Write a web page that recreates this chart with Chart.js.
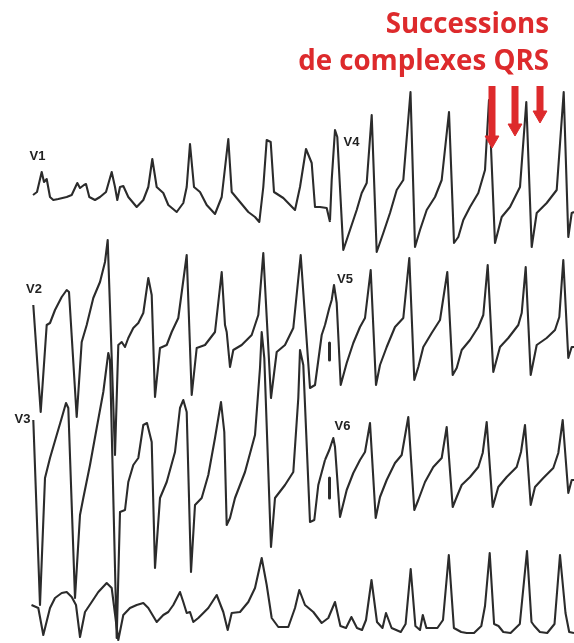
<!DOCTYPE html>
<html>
<head>
<meta charset="utf-8">
<script src="https://cdn.jsdelivr.net/npm/chart.js@4/dist/chart.umd.min.js"></script>
<style>
html,body{margin:0;padding:0;background:#fff;overflow:hidden;}
#wrap{width:574px;height:643px;position:relative;}
canvas{display:block;}
</style>
</head>
<body>
<div id="wrap"><canvas id="ecg"></canvas></div>
<script>
// ---- Data: each lead = [time, amplitude] pairs (amplitude relative to the lead's own baseline) ----
const leadNames = ['V1', 'V2', 'V3', 'V4', 'V5', 'V6', ''];

const v1 = [[33,5],[37,8],[41.7,28],[44,18],[46.7,21],[50,3],[53.3,0],[58.3,1],[66.7,3],[71.7,5],[77.3,17],[80,12],[84,15],[86,16],[89.3,3],[95,0],[100,3],[106,8],[111.7,28],[115,13],[117.3,0],[120,13],[123.3,14],[128.3,3],[136.7,-7],[143.3,0],[148.3,13],[152.3,41],[156.7,13],[163.3,7],[168.3,-5],[176.7,-12],[183.3,-3],[186.7,13],[190,56],[194,13],[200,8],[206.7,-5],[215,-14],[221.7,3],[228.3,61],[231.7,8],[240,-2],[248.3,-12],[255,-17],[259.3,-22],[263.3,13],[266.7,60],[270.7,58],[274,8],[283.3,2],[295,-10],[300,13],[306,51],[311.7,37],[315,-7],[320,-7],[326.7,-8],[330,-22]];

const v2 = [[33.3,35],[40.7,-72],[46.7,15],[50,17],[55,30],[61.7,43],[66.7,50],[69,48],[76.7,-77],[81.7,-2],[86.7,15],[93.3,42],[100,58],[105,78],[107.7,100],[115,-115],[118.3,-5],[121.7,-2],[125,-7],[128.3,2],[133.3,12],[138.3,17],[143.3,27],[148.3,62],[151.7,45],[155,-57],[160,-8],[166.7,-5],[171.7,8],[178.3,22],[186.7,85],[191.7,-55],[196.7,-8],[205,-5],[215,8],[221.7,68],[225,15],[226.7,8],[230,-27],[233.3,-10],[241.7,-5],[251.7,5],[258.3,25],[263.3,87],[271,-58],[276.7,-12],[285,-5],[293.3,12],[300.7,85],[310,-48],[315,-45],[321.7,5],[325,15]];

const v3 = [[33.3,60],[40,-125],[45,2],[50,22],[56.7,45],[61.7,62],[66,77],[68.3,72],[75,-118],[80,-35],[83.3,-18],[90,15],[96.7,52],[103.3,88],[108.3,127],[110,120],[116.7,-158],[120,-32],[125,-30],[128.3,-2],[133.3,15],[138.3,22],[143.3,55],[147,57],[151.7,38],[155,-88],[160,-18],[166.7,-2],[175,28],[180,72],[183.3,80],[186.7,68],[191,-92],[195,-25],[201.7,-18],[208.3,5],[215,42],[221,78],[224.3,48],[226.7,-45],[230,-38],[235,-18],[245,8],[255,45],[260,112],[261.7,148],[264.3,122],[271,-67],[275,-18],[285,-5],[293.3,8],[298.3,82],[300,130],[303.3,115],[310,-42],[314.3,-40],[318.3,-5],[325,20]];

const v4 = [[330,-10],[331.7,30],[335,80],[337.3,73],[343.3,-40],[350,-20],[356.7,0],[361.7,17],[366.7,27],[371.7,95],[376.7,-42],[383.3,-23],[390,-3],[396.7,20],[403.3,30],[410.5,118],[415,-37],[420,-20],[426.7,0],[435,13],[441.7,30],[449,98],[454,-33],[458.3,-27],[463.3,-10],[470,3],[478.3,17],[485,40],[489,110],[495,-33],[501.7,-7],[510,3],[520,23],[526.3,108],[531.7,-37],[536.7,-3],[546.7,7],[556.7,20],[563.7,118],[568.3,-27],[571.7,-3],[574,-2]];

const v5 = [[325,15],[329.3,32],[331.7,40],[334,55],[336.7,37],[340.7,-45],[346.7,-23],[353.3,-3],[360,13],[365,22],[370.7,70],[376,-45],[380,-25],[386.7,-7],[395,13],[403.3,22],[409.3,82],[414.3,-40],[418.3,-27],[423.3,-7],[431.7,7],[440,20],[447.3,68],[452.7,-35],[456.7,-28],[461.7,-10],[470,0],[478.3,13],[483.3,25],[487.7,75],[493.3,-32],[500,-7],[508.3,2],[518.3,15],[521.7,27],[525.7,73],[530.7,-35],[536.7,-5],[546.7,2],[555,10],[559.3,23],[563.3,80],[568.3,-18],[571.7,-7],[574,-7]];

const v6 = [[325,20],[329.3,30],[333.3,42],[335,33],[340,-37],[346.7,-10],[353.3,7],[360,20],[365,28],[370,57],[375.7,-38],[380,-17],[386.7,0],[395,17],[401.7,25],[408.3,63],[414.3,-30],[418.3,-20],[425,-2],[433.3,13],[441.7,22],[446.7,53],[452.7,-27],[456.7,-17],[461.7,-5],[470,3],[478.3,13],[482.7,27],[486.7,58],[492.7,-27],[498.3,-7],[506.7,3],[516.7,13],[521,28],[525,55],[530.7,-25],[535,-7],[543.3,2],[553.3,12],[558.3,27],[562.7,60],[568.3,-13],[571.7,0],[574,0]];

const strip = [[31.5,20],[38.3,17],[43.3,-10],[50,17],[55,27],[61.7,32],[66.7,33],[71.7,28],[76,20],[80,-12],[85,13],[91.7,23],[98.3,33],[106.7,42],[111.7,37],[118.3,-15],[123.3,10],[130,17],[136.7,20],[143.3,22],[148.3,17],[156.7,3],[163.3,10],[168.3,13],[173.3,20],[180,33],[183.3,23],[186.7,12],[190,13],[193.3,3],[198.3,7],[208.3,17],[216.7,30],[223.3,13],[227.7,-5],[231.7,12],[240,13],[248.3,23],[255,37],[261.7,67],[266.7,40],[271.7,7],[278.3,-2],[288.3,-2],[295,17],[299.3,35],[305,20],[313.3,13],[321.7,2],[328.3,7],[335,23],[340.4,-1],[346,-3],[351.4,8],[357,-3],[362,-5],[366,5],[371.5,45],[377,3],[382.5,-3],[386,12],[391.6,-3],[400.8,-7],[405.6,1],[410.7,56],[415.4,-1],[420,-5],[422.8,10],[426.4,-3],[437.4,-3],[443,5],[448.8,70],[453.9,-3],[461.2,-7],[466.7,-8],[474,-8],[481.3,-1],[485,19],[489.7,72],[494.1,1],[498.5,-1],[503.3,-7],[510.6,-8],[519.8,1],[527,74],[531.5,3],[534.4,-1],[539.9,-7],[547.2,-8],[554.5,1],[560,70],[565.5,12],[569.2,-7],[574,-8]];

// calibration marks (time, amplitude start, amplitude end) for V5 and V6
const calibV5 = [[329.5,-3],[329.5,-20]];
const calibV6 = [[329.5,2],[329.5,-18]];

// annotation: arrows pointing at the QRS complexes in V4 (time of target complex)
const arrowTimes = [492, 515, 540];
const titleLines = ['Successions', 'de complexes QRS'];

// ---- Layout (positions kept separate from data) ----
const leadBase = { V1: -200, V2: -340, V3: -480, V4: -210, V5: -340, V6: -480, strip: -625 };
const labelPos = { V1: [37.5, 44], V2: [34, 51], V3: [22.5, 61], V4: [351.5, 67.5], V5: [345, 61], V6: [342.5, 53.5] };
const arrowTop = -86;
const arrowTips = [-149, -137, -124];

const INK = '#2b2b2b';
const RED = '#dd2a2c';

function toXY(arr, base) { return arr.map(([t, a]) => ({ x: t, y: base + a })); }

function traceDS(arr, base) {
  return { data: toXY(arr, base), borderColor: INK, borderWidth: 2.1, pointRadius: 0, tension: 0, fill: false, clip: false, borderJoinStyle: 'round' };
}

const datasets = [];
// arrows (first so they draw on top)
arrowTimes.forEach((t, i) => {
  const headR = 8;
  datasets.push({ data: [{ x: t, y: arrowTips[i] + headR + 1 }], showLine: false, pointStyle: 'triangle', rotation: 180,
    pointRadius: headR, pointBackgroundColor: RED, pointBorderColor: RED, pointBorderWidth: 1, clip: false });
  datasets.push({ data: [{ x: t, y: arrowTop }, { x: t, y: arrowTips[i] + headR + 2 }], borderColor: RED, borderWidth: 7,
    borderCapStyle: 'butt', pointRadius: 0, clip: false });
});
datasets.push(traceDS(v1, leadBase.V1));
datasets.push(traceDS(v2, leadBase.V2));
datasets.push(traceDS(v3, leadBase.V3));
datasets.push(traceDS(v4, leadBase.V4));
datasets.push(traceDS(v5, leadBase.V5));
datasets.push(traceDS(v6, leadBase.V6));
datasets.push(traceDS(strip, leadBase.strip));
datasets.push(Object.assign(traceDS(calibV5, leadBase.V5), { borderWidth: 3, borderCapStyle: 'butt' }));
datasets.push(Object.assign(traceDS(calibV6, leadBase.V6), { borderWidth: 3, borderCapStyle: 'butt' }));

const textPlugin = {
  id: 'ecgText',
  afterDatasetsDraw(chart) {
    const { ctx, scales: { x, y } } = chart;
    ctx.save();
    // lead labels
    ctx.fillStyle = '#222';
    ctx.font = 'bold 13px "Liberation Sans", Arial, sans-serif';
    ctx.textAlign = 'center';
    ctx.textBaseline = 'middle';
    ['V1', 'V2', 'V3', 'V4', 'V5', 'V6'].forEach(n => {
      const [t, a] = labelPos[n];
      ctx.fillText(n, x.getPixelForValue(t), y.getPixelForValue(leadBase[n] + a));
    });
    // title
    let size = 28;
    ctx.font = `bold ${size}px "Open Sans", sans-serif`;
    const w = ctx.measureText(titleLines[1]).width;
    size = size * 251 / w;
    ctx.font = `bold ${size}px "Open Sans", sans-serif`;
    ctx.fillStyle = RED;
    ctx.textAlign = 'right';
    ctx.textBaseline = 'alphabetic';
    const right = x.getPixelForValue(549);
    ctx.fillText(titleLines[0], right, y.getPixelForValue(-33));
    ctx.fillText(titleLines[1], right, y.getPixelForValue(-70));
    ctx.restore();
  }
};

new Chart(document.getElementById('ecg'), {
  type: 'line',
  data: { datasets },
  options: {
    responsive: true,
    maintainAspectRatio: false,
    animation: false,
    events: [],
    layout: { padding: 0, autoPadding: false },
    plugins: { legend: { display: false }, tooltip: { enabled: false }, title: { display: false } },
    scales: {
      x: { type: 'linear', min: 0, max: 574, display: false },
      y: { type: 'linear', min: -643, max: 0, display: false }
    }
  },
  plugins: [textPlugin]
});
</script>
</body>
</html>
